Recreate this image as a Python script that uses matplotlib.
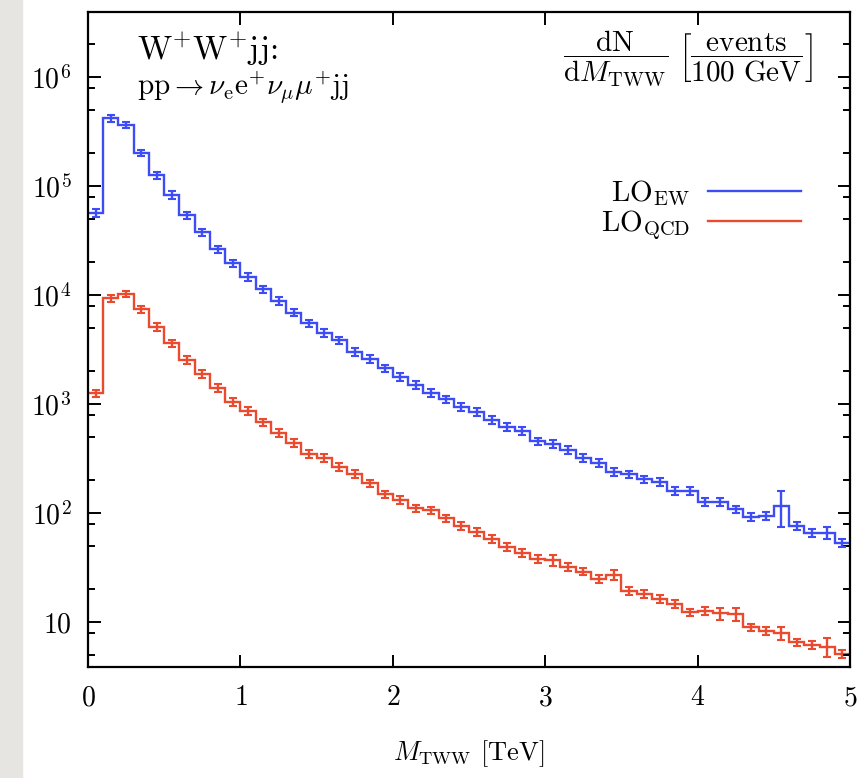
import numpy as np
import matplotlib
matplotlib.use("Agg")
import matplotlib.pyplot as plt
from matplotlib.ticker import FixedLocator, LogLocator, NullFormatter
from matplotlib.patches import Rectangle

plt.rcParams['font.family'] = 'serif'
plt.rcParams['font.serif'] = ['cmr10', 'DejaVu Serif']
plt.rcParams['mathtext.fontset'] = 'cm'
plt.rcParams['axes.formatter.use_mathtext'] = True

# bin edges in TeV (100 GeV bins)
edges = np.arange(0, 5.01, 0.1)

# LO_EW, events / 100 GeV
lo_ew = [5.7e4, 4.2e5, 3.65e5, 2.02e5, 1.25e5, 8.3e4, 5.4e4, 3.75e4, 2.62e4, 1.95e4,
         1.46e4, 1.13e4, 8.8e3, 6.9e3, 5.5e3, 4.5e3, 3.85e3, 3.0e3, 2.58e3, 2.12e3,
         1.78e3, 1.49e3, 1.27e3, 1.10e3, 940, 850, 715, 620, 570, 455,
         430, 380, 320, 289, 237, 226, 203, 192, 159, 159,
         126, 126, 108, 92.5, 94, 117, 76, 66, 66, 53]
# LO_QCD, events / 100 GeV
lo_qcd = [1.25e3, 9.3e3, 1.02e4, 7.4e3, 5.1e3, 3.6e3, 2.55e3, 1.9e3, 1.4e3, 1.05e3,
          860, 680, 540, 440, 350, 320, 265, 228, 187, 148,
          132, 110, 106, 89, 76, 67, 58, 49, 43, 38,
          37, 32, 29, 25, 27, 19.3, 18, 16.2, 14.6, 12.3,
          12.7, 12.0, 11.8, 8.9, 8.3, 7.9, 6.5, 6.2, 5.9, 5.1]

# MC errors in percent
ew_err = [8, 7, 7, 7, 8, 8, 8, 8, 8, 8,
          8, 8, 8, 8, 8, 8, 8, 8, 8, 8,
          8, 8, 8, 8, 8, 8, 8, 8, 8, 8,
          8, 8, 8, 8, 8, 8, 8, 8, 8, 8,
          8, 8, 8, 8, 8, 37, 8, 8, 12, 8]
qcd_err = [8, 7, 7, 7, 8, 8, 8, 8, 8, 8,
           8, 8, 8, 8, 8, 8, 8, 8, 8, 8,
           8, 8, 8, 8, 8, 8, 8, 8, 8, 8,
           12, 8, 8, 8, 10, 8, 8, 8, 8, 8,
           8, 13, 14, 8, 8, 14, 8, 8, 20, 8]

ytick_vals = [10, 1e2, 1e3, 1e4, 1e5, 1e6]
ytick_labels = [r'$10$', r'$10^{2}$', r'$10^{3}$', r'$10^{4}$', r'$10^{5}$', r'$10^{6}$']
xtick_vals = [0, 1, 2, 3, 4, 5]

blue = '#3d4cf4'
red = '#ea4a2d'

fig = plt.figure(figsize=(8.6, 7.78), dpi=100)
fig.patches.append(Rectangle((0, 0), 22 / 860, 1, transform=fig.transFigure,
                             color='#e7e5e2', zorder=-1))
ax = fig.add_axes([88 / 860, 1 - 667 / 778, 762 / 860, 655 / 778])

centers = 0.5 * (edges[:-1] + edges[1:])
ew = np.array(lo_ew)
qcd = np.array(lo_qcd)

ax.stairs(ew, edges, baseline=None, color=blue, lw=1.7, label=r'LO$_{\mathrm{EW}}$')
ax.stairs(qcd, edges, baseline=None, color=red, lw=1.7, label=r'LO$_{\mathrm{QCD}}$')
ax.errorbar(centers, ew, yerr=ew * np.array(ew_err) / 100, fmt='none',
            ecolor=blue, elinewidth=1.7, capsize=3, capthick=1.5)
ax.errorbar(centers, qcd, yerr=qcd * np.array(qcd_err) / 100, fmt='none',
            ecolor=red, elinewidth=1.7, capsize=3, capthick=1.5)

ax.set_yscale('log')
ax.set_xlim(0, 5)
ax.set_ylim(3.86, 3.95e6)
ax.yaxis.set_major_locator(FixedLocator(ytick_vals))
ax.set_yticklabels(ytick_labels)
ax.yaxis.set_minor_locator(LogLocator(base=10, subs=[2, 5, 8]))
ax.yaxis.set_minor_formatter(NullFormatter())
ax.set_xticks(xtick_vals)
ax.tick_params(which='both', direction='in', top=True, right=True, width=1.4)
ax.tick_params(which='major', length=9, labelsize=20)
ax.tick_params(which='minor', length=5)
ax.tick_params(axis='x', pad=13)
ax.tick_params(axis='y', pad=12)
for s in ax.spines.values():
    s.set_linewidth(1.6)

ax.set_xlabel(r'$M_{\mathrm{TWW}}$ [TeV]', fontsize=19, labelpad=19)

ax.text(0.064, 0.943, r'W$^{+}$W$^{+}$jj:', transform=ax.transAxes,
        fontsize=24, va='center', ha='left')
ax.text(0.064, 0.884, r'pp$\rightarrow \nu_{\mathrm{e}}\mathrm{e}^{+}\nu_{\mu}\mu^{+}$jj',
        transform=ax.transAxes, fontsize=21, va='center', ha='left')
ax.text(0.787, 0.93,
        r'$\dfrac{\mathrm{dN}}{\mathrm{d}M_{\mathrm{TWW}}}\ \left[\dfrac{\mathrm{events}}{\mathrm{100\ GeV}}\right]$',
        transform=ax.transAxes, fontsize=21, va='center', ha='center')

ax.legend(loc='upper right', bbox_to_anchor=(0.97, 0.785), frameon=False,
          markerfirst=False, fontsize=21, handlelength=3.2, handletextpad=0.6,
          labelspacing=0.0)

fig.savefig('out.png', dpi=100)
